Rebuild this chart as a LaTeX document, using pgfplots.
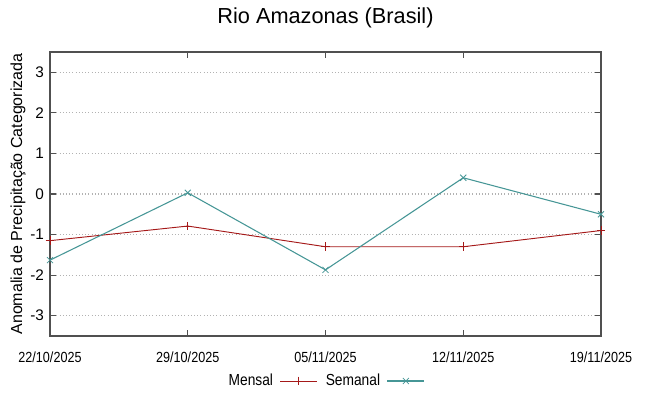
\documentclass[border=0pt]{standalone}
\usepackage{fontspec}
\setmainfont{Liberation Sans}
\newfontfamily\narrowfont[FakeStretch=0.86]{Liberation Sans}
\usepackage{pgfplots}
\pgfplotsset{compat=1.18}
\definecolor{mensal}{RGB}{165,25,25}
\definecolor{semanal}{RGB}{70,150,150}
\definecolor{axisgray}{RGB}{80,80,80}
\begin{document}
\begin{tikzpicture}
\useasboundingbox (-37.5pt,-45pt) rectangle (449.25pt,252pt);
\begin{axis}[
  at={(0,0)}, anchor=south west,
  scale only axis, width=413.25pt, height=213pt,
  xmin=0, xmax=4, ymin=-3.5, ymax=3.5,
  xtick={0,1,2,3,4},
  xticklabels={22/10/2025,29/10/2025,05/11/2025,12/11/2025,19/11/2025},
  ytick={-3,-2,-1,0,1,2,3},
  /pgf/number format/assume math mode=true,
  yticklabel style={font=\fontsize{11.5}{12}\selectfont, xshift=-1pt},
  xticklabel style={font=\narrowfont\fontsize{11}{12}\selectfont, yshift=-8pt},
  tick align=inside, major tick length=4.5pt,
  tick style={axisgray, line width=0.9pt},
  axis line style={axisgray, line width=1pt},
  ymajorgrids, grid style={gray!60, dotted, line width=0.8pt},
  title={Rio Amazonas (Brasil)},
  title style={at={(axis description cs:0.5,1)}, anchor=center, yshift=19.5pt, font=\fontsize{16.3}{18}\selectfont},
  ylabel={Anomalia de Precipitação Categorizada},
  ylabel style={at={(axis description cs:-0.058,0.5)}, anchor=center, font=\fontsize{12}{13}\selectfont},
  legend plot pos=right,
  legend columns=2,
  legend style={at={(axis description cs:0.5,0)}, anchor=center, yshift=-33.75pt, draw=none, fill=none, font=\narrowfont\fontsize{12}{13}\selectfont, /tikz/every even column/.append style={column sep=4pt}, /tikz/every odd column/.append style={column sep=3pt}},
  legend image code/.code={\draw[#1] (0cm,0cm) -- (0.98cm,0cm); \draw[#1, mark repeat=1] plot coordinates {(0.49cm,0cm)};},
]
\addplot[mensal, line width=0.7pt, mark=+, mark size=3.2pt, mark options={line width=0.6pt}] coordinates {
  (0,-1.15) (1,-0.79) (2,-1.30) (3,-1.30) (4,-0.90)
};
\addlegendentry{Mensal}
\addplot[semanal, line width=0.8pt, mark=x, mark size=3.2pt, mark options={line width=0.6pt}] coordinates {
  (0,-1.63) (1,0.03) (2,-1.87) (3,0.40) (4,-0.50)
};
\addlegendentry{Semanal}
\end{axis}
\end{tikzpicture}
\end{document}
